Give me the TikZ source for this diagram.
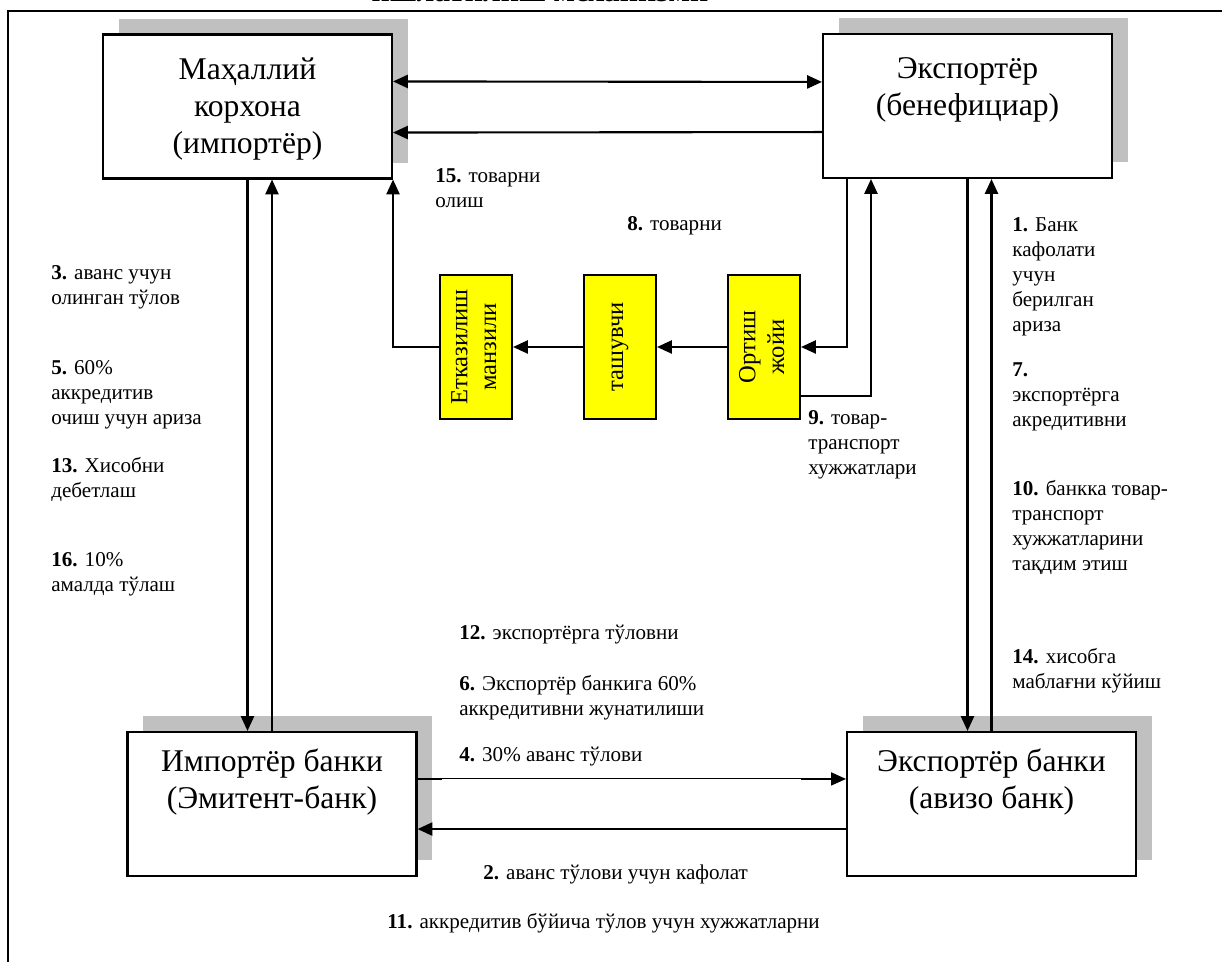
\documentclass[tikz,border=0pt]{standalone}
\usepackage{fontspec}
\setmainfont{Liberation Serif}
\usepackage{xcolor}
\usepackage{tikz}
\usetikzlibrary{shapes, arrows.meta, positioning, shadows}

\definecolor{shadowgray}{HTML}{C0C0C0}
\definecolor{boxyellow}{HTML}{FFFF00}

\tikzset{
    bigbox/.style={rectangle, draw, line width=1.2pt, fill=white, minimum width=5.78cm, minimum height=2.88cm,
        drop shadow={shadow xshift=9pt, shadow yshift=9pt, fill=shadowgray, opacity=1}},
    boxtext/.style={align=center, inner sep=0pt, font=\fontsize{18}{21}\selectfont},
    ybox/.style={rectangle, draw, line width=1.2pt, fill=boxyellow, minimum width=1.44cm, minimum height=2.88cm,
        align=center, inner sep=0pt, font=\fontsize{14}{16.4}\selectfont},
    lbl/.style={align=left, inner sep=0pt, anchor=north west, font=\fontsize{12}{14.2}\selectfont},
    arr/.style={line width=1.2pt, -{Triangle[length=8.5pt, width=7.5pt]}},
    arrs/.style={line width=1.2pt, {Triangle[length=8.5pt, width=7.5pt]}-{Triangle[length=8.5pt, width=7.5pt]}},
    plain/.style={line width=1.2pt}
}

\begin{document}
\begin{tikzpicture}[x=0.02cm, y=-0.02cm]
    \useasboundingbox (0,0) rectangle (1222,962);

    % Frame (cut off) and title
    \draw[line width=1.4pt] (8,980) -- (8,11) -- (1240,11);
    \node (title) [anchor=base, inner sep=0pt, font=\fontsize{18}{20}\selectfont\bfseries] at (540,2) {ишлатилиш механизми};

    % Main boxes
    \node (mah) [bigbox] at (247.5,106.5) {};
    \node (exp) [bigbox] at (967.5,106) {};
    \node (ibank) [bigbox] at (272,804) {};
    \node (ebank) [bigbox] at (991.5,804) {};

    \node (mahtxt) [boxtext, anchor=north] at ([yshift=-0.48cm]mah.north) {Маҳаллий\\корхона\\(импортёр)};
    \node (exptxt) [boxtext, anchor=north] at ([yshift=-0.48cm]exp.north) {Экспортёр\\(бенефициар)};
    \node (ibanktxt) [boxtext, anchor=north] at ([yshift=-0.36cm]ibank.north) {Импортёр банки\\(Эмитент-банк)};
    \node (ebanktxt) [boxtext, anchor=north] at ([yshift=-0.36cm]ebank.north) {Экспортёр банки\\(авизо банк)};

    % Goods chain
    \node (ets) [ybox] at (476,347) {\rotatebox{90}{\begin{tabular}{@{}c@{}}Етказилиш\\манзили\end{tabular}}};
    \node (tash) [ybox] at (620,347) {\rotatebox{90}{ташувчи}};
    \node (ort) [ybox] at (764,347) {\rotatebox{90}{\begin{tabular}{@{}c@{}}Ортиш\\жойи\end{tabular}}};

    % Connectors top
    \draw[arrs] ([yshift=-0.96cm]mah.north east) -- ([yshift=-0.98cm]exp.north west);
    \draw[arr] ([yshift=0.94cm]exp.south west) -- ([yshift=0.94cm]mah.south east);

    % Goods flow
    \draw[arr] (tash.west) -- (ets.east);
    \draw[arr] (ort.west) -- (tash.east);
    \draw[arr] (ets.west) -| (mah.south east);
    \draw[arr] ([xshift=0.5cm]exp.south west) |- (ort.east);
    \draw[arr] ([yshift=0.48cm]ort.south east) -| ([xshift=0.98cm]exp.south west);

    % Importer side
    \draw[arr] (mah.south) -- (mah.south |- ibank.north);
    \draw[arr] (ibank.north) -- (ibank.north |- mah.south);

    % Exporter side
    \draw[arr] (exp.south) -- (exp.south |- ebank.north);
    \draw[arr] (ebank.north) -- (ebank.north |- exp.south);

    % Banks
    \draw[line width=0.6pt, -{Triangle[length=8.5pt, width=7.5pt]}] ([yshift=-0.96cm]ibank.north east) -- ([yshift=-0.96cm]ebank.north west);
    \draw[plain] ([yshift=-0.96cm]ibank.north east) -- ++(24,0);
    \draw[plain] ([yshift=-0.96cm,xshift=-0.9cm]ebank.north west) -- ++(30,0);
    \draw[arr] ([yshift=0.96cm]ebank.south west) -- ([yshift=0.96cm]ibank.south east);

    % Labels
    \node (n15) [lbl] at (435,168) {\textbf{15.} товарни\\олиш};
    \node (n8) [lbl] at (627,216) {\textbf{8.} товарни};
    \node (n1) [lbl] at (1012,217) {\textbf{1.} Банк\\кафолати\\учун\\берилган\\ариза};
    \node (n7) [lbl] at (1012,362) {\textbf{7.}\\экспортёрга\\акредитивни};
    \node (n9) [lbl] at (808,410) {\textbf{9.} товар-\\транспорт\\хужжатлари};
    \node (n10) [lbl] at (1012,480) {\textbf{10.} банкка товар-\\транспорт\\хужжатларини\\тақдим этиш};
    \node (n14) [lbl] at (1012,648) {\textbf{14.} хисобга\\маблағни кўйиш};
    \node (n3) [lbl] at (51,265) {\textbf{3.} аванс учун\\олинган тўлов};
    \node (n5) [lbl] at (51,360) {\textbf{5.} 60\%\\аккредитив\\очиш учун ариза};
    \node (n13) [lbl] at (51,457) {\textbf{13.} Хисобни\\дебетлаш};
    \node (n16) [lbl] at (51,552) {\textbf{16.} 10\%\\амалда тўлаш};
    \node (n12) [lbl] at (459,625) {\textbf{12.} экспортёрга тўловни};
    \node (n6) [lbl] at (459,675) {\textbf{6.} Экспортёр банкига 60\%\\аккредитивни жунатилиши};
    \node (n4) [lbl] at (459,747) {\textbf{4.} 30\% аванс тўлови};
    \node (n2) [lbl] at (483,865) {\textbf{2.} аванс тўлови учун кафолат};
    \node (n11) [lbl] at (387,913) {\textbf{11.} аккредитив бўйича тўлов учун хужжатларни};

\end{tikzpicture}
\end{document}
